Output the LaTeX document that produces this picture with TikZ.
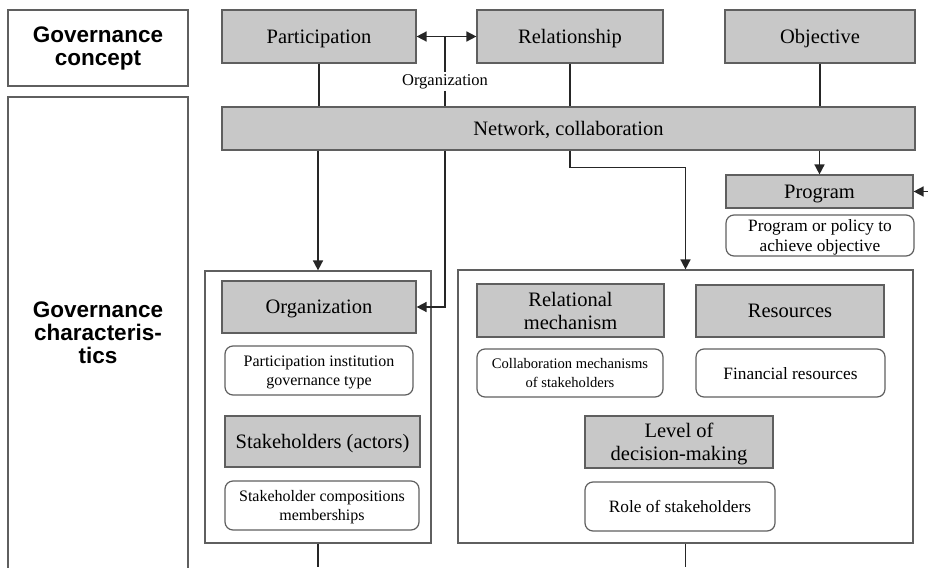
\documentclass[tikz,border=0pt]{standalone}
\usepackage{fontspec}
\setmainfont{Liberation Serif}
\newfontfamily\headfont{Liberation Sans}
\usetikzlibrary{arrows.meta}
\definecolor{boxgray}{RGB}{200,200,200}
\definecolor{edgegray}{RGB}{95,95,95}

\begin{document}
\begin{tikzpicture}[x=1pt,y=-1pt,>={Triangle[length=10pt,width=10pt]}]
  \tikzstyle{head}=[draw=edgegray,line width=1.2pt,align=center,font=\headfont\bfseries\fontsize{22.5}{23}\selectfont]
  \tikzstyle{grey}=[draw=edgegray,line width=1.2pt,fill=boxgray,align=center,inner sep=0pt,text depth=0pt,font=\fontsize{20.5}{23}\selectfont]
  \tikzstyle{note}=[draw=edgegray,line width=1.2pt,rounded corners=8pt,align=center,inner sep=0pt,text depth=0pt]
  \tikzstyle{frame}=[draw=edgegray,line width=1.2pt,inner sep=0pt]
  \tikzstyle{link}=[draw=black!85,line width=1.6pt]

  \useasboundingbox (0,0) rectangle (928,567);

  % left column
  \node[head,minimum width=180pt,minimum height=76pt] (concept) at (98,48) {Governance\\concept};
  \node[head,minimum width=180pt,minimum height=472pt] (traits) at (98,333) {Governance\\characteris-\\tics};

  % concepts
  \foreach \name/\x/\w/\text in {part/319/194/Participation, relat/570/186/Relationship, obj/820/190/Objective}
    \node[grey,minimum width=\w pt,minimum height=53pt] (\name) at (\x,36.5) {\text};

  \node[grey,minimum width=693pt,minimum height=43pt] (net) at (568.5,128.5) {Network, collaboration};
  \node[grey,minimum width=187pt,minimum height=33pt] (prog) at (819.5,191.5) {Program};
  \node[note,minimum width=188pt,minimum height=41pt,font=\fontsize{17.3}{19.5}\selectfont] (prognote) at (820,235.5) {Program or policy to\\achieve objective};
  \node[font=\fontsize{16.5}{18}\selectfont,inner sep=2pt] (orglbl) at (445,81.5) {Organization};

  % characteristics
  \node[frame,minimum width=226pt,minimum height=272pt] (leftc) at (318,407) {};
  \node[frame,minimum width=455pt,minimum height=273pt] (rightc) at (685.5,406.5) {};

  \foreach \name/\x/\y/\w/\h/\text in {org/319/307/194/52/Organization, stake/322.5/441.5/195/51/Stakeholders (actors),
      rel/570.5/310.5/187/53/{Relational\\mechanism}, res/790/311/188/52/Resources, level/679/442/188/52/{Level of\\decision-making}}
    \node[grey,minimum width=\w pt,minimum height=\h pt] (\name) at (\x,\y) {\text};

  \foreach \name/\x/\y/\w/\h/\fs/\text in {orgnote/319/370.5/188/49/16/{Participation institution\\governance type},
      stakenote/322/505.5/194/49/16/{Stakeholder compositions\\memberships}, relnote/570/373/186/48/14.6/{Collaboration mechanisms\\of stakeholders},
      resnote/790.5/373/189/48/17.3/Financial resources, role/680/506.5/190/49/17.3/Role of stakeholders}
    \node[note,minimum width=\w pt,minimum height=\h pt,font=\fontsize{\fs}{18.5}\selectfont] (\name) at (\x,\y) {\text};

  % connectors
  \coordinate (mid) at (445,36.5);
  \coordinate (progin) at (928,191.5);
  \coordinate (lout) at (318,567);
  \coordinate (rout) at (685.5,567);

  \draw[link,<->] (part) -- (relat);
  \draw[link] (mid) -- (orglbl);
  \draw[link] (orglbl) -- (orglbl |- net.north);
  \foreach \name in {part,relat,obj}
    { \draw[link] (\name) -- (\name |- net.north); }

  \draw[link,->] (leftc.north |- net.south) -- (leftc.north);
  \draw[link,->] (orglbl |- net.south) |- (org.east);
  \draw[link,->] (relat |- net.south) -- ++(0,17) -| (rightc.north);
  \draw[link,->] (prog.north |- net.south) -- (prog.north);
  \draw[link,->] (progin) -- (prog.east);

  \draw[link] (leftc.south) -- (lout);
  \draw[link] (rightc.south) -- (rout);
\end{tikzpicture}
\end{document}
